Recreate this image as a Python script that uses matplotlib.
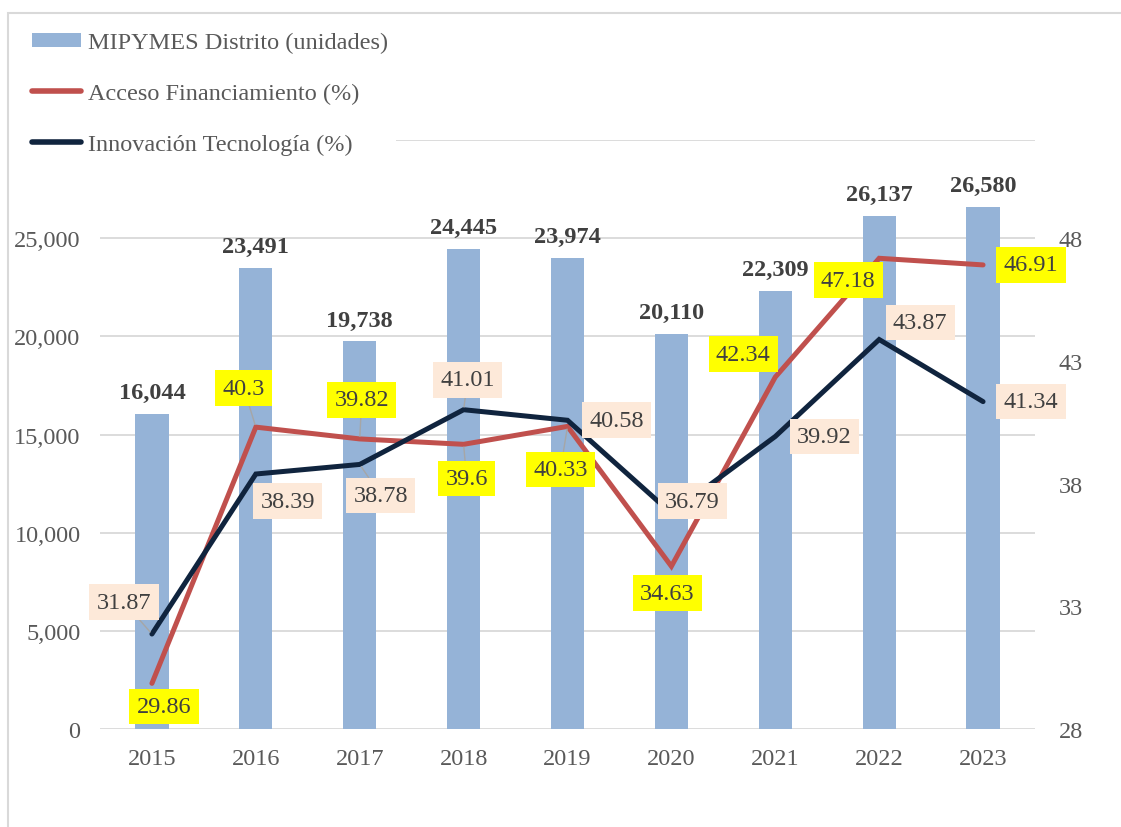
import matplotlib
matplotlib.use("Agg")
import matplotlib.pyplot as plt
from matplotlib.patches import Rectangle, Patch
from matplotlib.lines import Line2D
import numpy as np

plt.rcParams['font.family'] = ['Liberation Serif', 'DejaVu Serif']

years = ['2015', '2016', '2017', '2018', '2019', '2020', '2021', '2022', '2023']
mipymes = [16044, 23491, 19738, 24445, 23974, 20110, 22309, 26137, 26580]
acceso = [29.86, 40.3, 39.82, 39.6, 40.33, 34.63, 42.34, 47.18, 46.91]
innovacion = [31.87, 38.39, 38.78, 41.01, 40.58, 36.79, 39.92, 43.87, 41.34]

# label offsets (pixels) and whether a leader line is drawn
acceso_off = [(12, -23), (-12, 39), (2, 39), (3, -34), (-7, -43), (-4, -27), (-32, 23), (-31, -22), (48, 0)]
acceso_lead = [False, True, True, True, True, False, False, False, False]
innov_off = [(-28, 32), (32, -27), (21, -31), (4, 30), (49, 0), (21, 12), (49, 0), (41, 17), (48, 0)]
innov_lead = [True, False, True, True, False, False, False, False, False]

BAR = '#95B3D7'
RED = '#C0504D'
NAVY = '#10243E'
TXT = '#404040'
AX = '#595959'
GRID = '#D9D9D9'

W, H = 1121, 828
fig = plt.figure(figsize=(W / 100, H / 100), dpi=100)
fig.patches.append(Rectangle((8 / W, -0.1), 1.2, 1.1 - 14 / H, transform=fig.transFigure,
                             fill=False, edgecolor=GRID, linewidth=1.5, zorder=0))

ax = fig.add_axes([100 / W, 1 - 730 / H, 935 / W, (730 - 141) / H])
x = np.arange(len(years))
bars = ax.bar(x, mipymes, width=0.32, color=BAR, zorder=2)
ax.set_xlim(-0.5, len(years) - 0.5)
ax.set_ylim(0, 30000)
ax.set_yticks(np.arange(0, 30001, 5000))
ax.set_yticklabels([f'{v:,}' if v < 30000 else '' for v in range(0, 30001, 5000)])
ax.set_xticks(x)
ax.set_xticklabels(years)
ax.grid(axis='y', color=GRID, linewidth=1.3, zorder=0)
ax.set_axisbelow(True)
for s in ax.spines.values():
    s.set_visible(False)
ax.tick_params(axis='both', length=0, labelsize=17.5, colors=AX)
ax.tick_params(axis='y', pad=14)
ax.tick_params(axis='x', pad=14)

for xi, v in zip(x, mipymes):
    ax.annotate(f'{v:,}', (xi, v), xytext=(0, 11), textcoords='offset pixels',
                ha='center', va='bottom', fontsize=17.5, fontweight='bold', color=TXT)

ax2 = ax.twinx()
ax2.set_ylim(28, 52)
ax2.set_yticks(np.arange(28, 49, 5))
for s in ax2.spines.values():
    s.set_visible(False)
ax2.tick_params(axis='y', length=0, labelsize=17.5, colors=AX, pad=17)

ax2.plot(x, acceso, color=RED, linewidth=3.6, solid_capstyle='round', solid_joinstyle='miter', zorder=3)
ax2.plot(x, innovacion, color=NAVY, linewidth=3.6, solid_capstyle='round', solid_joinstyle='miter', zorder=4)

def add_labels(vals, offs, leads, face):
    for xi, v, (dx, dy), lead in zip(x, vals, offs, leads):
        kw = {}
        if lead:
            kw['arrowprops'] = dict(arrowstyle='-', color='#A6A6A6', lw=1, shrinkA=0, shrinkB=2)
        ax2.annotate(f'{v:g}', (xi, v), xytext=(dx, dy), textcoords='offset pixels',
                     ha='center', va='center', fontsize=17.5, color=TXT, zorder=6,
                     bbox=dict(boxstyle='square,pad=0.3', facecolor=face, edgecolor='none'), **kw)

add_labels(acceso, acceso_off, acceso_lead, '#FFFF00')
add_labels(innovacion, innov_off, innov_lead, '#FDE9D9')

handles = [Patch(facecolor=BAR, edgecolor='none'),
           Line2D([], [], color=RED, linewidth=4, solid_capstyle='round'),
           Line2D([], [], color=NAVY, linewidth=4, solid_capstyle='round')]
labels = ['MIPYMES Distrito (unidades)', 'Acceso Financiamiento (%)', 'Innovación Tecnología (%)']
leg = fig.legend(handles, labels, loc='upper left', bbox_to_anchor=(25 / W, 1 - 26 / H),
                 frameon=True, fontsize=17.5, handlelength=2.0, handleheight=0.55, handletextpad=0.3,
                 labelspacing=1.22, borderpad=0.3, borderaxespad=0)
leg.get_frame().set_facecolor('white')
leg.get_frame().set_edgecolor('none')
leg.get_frame().set_alpha(1)
for t in leg.get_texts():
    t.set_color(AX)

fig.savefig('out.png', dpi=100)
